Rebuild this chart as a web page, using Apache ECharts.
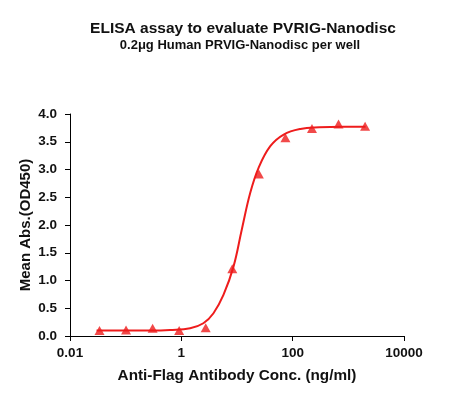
<!DOCTYPE html>
<html>
<head>
<meta charset="utf-8">
<script src="https://cdn.jsdelivr.net/npm/echarts@6/dist/echarts.min.js"></script>
<style>
html,body{margin:0;padding:0;background:#fff;}
#chart{width:451px;height:400px;}
</style>
</head>
<body>
<div id="chart"></div>
<script>
// Measured points (concentration ng/ml, OD450)
const concentrations = [0.0339, 0.1016, 0.305, 0.914, 2.74, 8.23, 24.7, 74.1, 222.2, 666.7, 2000];
const odValues = [0.10, 0.11, 0.14, 0.10, 0.15, 1.21, 2.92, 3.57, 3.74, 3.82, 3.78];

// Fitted curve
const curveX = [0.03, 0.1, 0.3, 0.625, 1.44, 2.49, 3.78, 5.71, 8.65, 12.2, 17.3, 24.4, 39.6, 68.9, 137.7, 300, 800, 2040];
const curveY = [0.10, 0.10, 0.10, 0.11, 0.14, 0.23, 0.41, 0.74, 1.25, 1.92, 2.58, 3.03, 3.42, 3.63, 3.73, 3.76, 3.77, 3.77];

const xTicks = ['0.01', '1', '100', '10000'];
const yTicks = ['0.0', '0.5', '1.0', '1.5', '2.0', '2.5', '3.0', '3.5', '4.0'];

const FONT = 'Liberation Sans, Arial, sans-serif';
const RED = '#ee1c1c';

const chart = echarts.init(document.getElementById('chart'), null, {renderer: 'canvas'});
chart.setOption({
  animation: false,
  backgroundColor: '#fff',
  title: [
    {text: 'ELISA assay to evaluate PVRIG-Nanodisc', left: 238, top: 16, textAlign: 'center',
     textStyle: {fontFamily: FONT, fontSize: 15.5, fontWeight: 'bold', color: '#111'}},
    {text: '0.2μg Human PRVIG-Nanodisc per well', left: 235, top: 34, textAlign: 'center',
     textStyle: {fontFamily: FONT, fontSize: 13, fontWeight: 'bold', color: '#111'}}
  ],
  grid: {left: 70, right: 47, top: 114, bottom: 64, containLabel: false},
  xAxis: {
    type: 'log', logBase: 100, min: 0.01, max: 10000,
    name: 'Anti-Flag Antibody Conc. (ng/ml)', nameLocation: 'middle', nameGap: 32,
    nameMoveOverlap: false,
    nameTextStyle: {fontFamily: FONT, fontSize: 15.3, fontWeight: 'bold', color: '#111'},
    axisLine: {lineStyle: {color: '#000', width: 1}},
    axisTick: {show: true, inside: false, length: 5, lineStyle: {color: '#000'}},
    minorTick: {show: false},
    splitLine: {show: false},
    axisLabel: {fontFamily: FONT, fontSize: 13.5, fontWeight: 'bold', color: '#111', margin: 10,
      formatter: function (v) {
        const e = Math.round(Math.log10(v));
        const idx = (e + 2) / 2;
        return xTicks[idx] !== undefined ? xTicks[idx] : '';
      }}
  },
  yAxis: {
    type: 'value', min: 0, max: 4, interval: 0.5,
    name: 'Mean Abs.(OD450)', nameLocation: 'middle', nameGap: 37, nameRotate: 90,
    nameMoveOverlap: false,
    nameTextStyle: {fontFamily: FONT, fontSize: 15, fontWeight: 'bold', color: '#111'},
    axisLine: {show: true, lineStyle: {color: '#000', width: 1}},
    axisTick: {show: true, inside: false, length: 5, lineStyle: {color: '#000'}},
    splitLine: {show: false},
    axisLabel: {fontFamily: FONT, fontSize: 13.5, fontWeight: 'bold', color: '#111', margin: 13,
      formatter: function (v) { return yTicks[Math.round(v / 0.5)]; }}
  },
  series: [
    {
      type: 'line', smooth: 0.4, showSymbol: false, symbol: 'none',
      data: curveX.map((x, i) => [x, curveY[i]]),
      lineStyle: {color: RED, width: 2}, z: 2
    },
    {
      type: 'scatter', symbol: 'triangle', symbolSize: [10, 9],
      data: concentrations.map((x, i) => [x, odValues[i]]),
      itemStyle: {color: RED}, z: 3
    }
  ]
});
</script>
</body>
</html>
